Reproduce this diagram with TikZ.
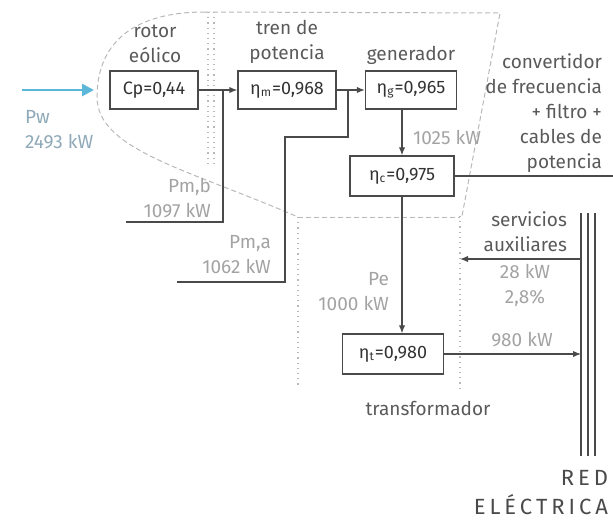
\documentclass[tikz,border=0pt]{standalone}
\usepackage{fontspec}
\setmainfont{Fira Sans}
\usetikzlibrary{arrows.meta}
\definecolor{trazo}{HTML}{4A4A4A}
\definecolor{textoc}{HTML}{5A5A5A}
\definecolor{valorc}{HTML}{A3A3A3}
\definecolor{viento}{HTML}{5DB7D8}
\definecolor{vientot}{HTML}{8FA9B8}
\definecolor{limite}{HTML}{B8B8B8}
\begin{document}
\begin{tikzpicture}[
    x=0.5pt, y=-0.5pt,
    caja/.style={draw=trazo, line width=0.7pt, font=\fontsize{9}{11}\selectfont,
                 text=black!80, minimum height=19pt, inner sep=1pt},
    titulo/.style={align=center, font=\fontsize{9.5}{12.5}\selectfont, text=textoc},
    valor/.style={font=\fontsize{9.5}{12.5}\selectfont, text=valorc},
    flujo/.style={-{Latex[length=4pt,width=3.2pt]}, draw=trazo, line width=0.6pt},
    conexion/.style={draw=trazo, line width=0.6pt},
    aire/.style={-{Triangle[length=6pt,width=6pt]}, draw=viento, line width=1.4pt},
    borde/.style={draw=limite, dash pattern=on 2.5pt off 1.5pt, line width=0.5pt},
    punteado/.style={draw=limite, dotted, line width=0.6pt}
  ]
  \useasboundingbox (0,0) rectangle (613,520);

  % limites del sistema
  \draw[borde] (205,12) .. controls (125,12) and (97,50) .. (97,97)
    .. controls (97,150) and (190,170) .. (298,217);
  \draw[borde] (205,12) -- (500,13) -- (462,216);
  \draw[borde] (298,217) -- (460,217);
  \draw[punteado] (460,216) -- (460,392);
  \draw[punteado] (298,217) -- (298,388);
  \draw[punteado] (208,12) -- (208,167);
  \draw[punteado] (214,12) -- (214,167);

  % bloques
  \node[caja, minimum width=44pt]   (rotor) at (154,90)  {Cp=0,44};
  \node[caja, minimum width=49pt]   (tren)  at (287,90)  {η\textsubscript{m}=0,968};
  \node[caja, minimum width=45.5pt] (gen)   at (411,90)  {η\textsubscript{g}=0,965};
  \node[caja, minimum width=52pt, minimum height=20pt] (conv)  at (402,176) {η\textsubscript{c}=0,975};
  \node[caja, minimum width=50.5pt, minimum height=20pt] (trafo) at (393,354) {η\textsubscript{t}=0,980};

  \node[titulo] (trotor) at (155,44) {rotor\\eólico};
  \node[titulo] (ttren)  at (287,42) {tren de\\potencia};
  \node[titulo] (tgen)   at (411,55) {generador};
  \node[titulo, align=right, anchor=east] (tconv) at (609,113)
    {convertidor\\de frecuencia\\+ filtro +\\cables de\\potencia};
  \node[titulo] (ttrafo) at (428,408) {transformador};
  \node[titulo, align=right, anchor=east] (taux) at (574,232) {servicios\\auxiliares};
  \node[titulo, align=right, anchor=east, text=trazo,
        font=\fontsize{11}{14.5}\selectfont\addfontfeature{LetterSpace=18}] (tred) at (615,493)
    {RED\\ELÉCTRICA};

  % potencias
  \node[valor, align=left, anchor=west, text=vientot] (pw) at (18,130) {Pw\\2493 kW};
  \node[valor, align=right, anchor=east] (vpmb) at (218,198) {Pm,b\\1097 kW};
  \node[valor, align=right, anchor=east] (vpma) at (278,255) {Pm,a\\1062 kW};
  \node[valor, align=right, anchor=east] (vpe)  at (396,292) {Pe\\1000 kW};
  \node[valor, anchor=west] (vgen) at (406,137) {1025 kW};
  \node[valor, align=center] (vaux) at (525,285) {28 kW\\2,8\%};
  \node[valor] (vred) at (522,340) {980 kW};

  % puntos libres
  \coordinate (pwini)  at (22,90);
  \coordinate (pwfin)  at (94,90);
  \coordinate (derivb) at (223,90);
  \coordinate (pmb)    at (126,222);
  \coordinate (deriva) at (348,90);
  \coordinate (pma)    at (177,282);
  \coordinate (salida) at (613,176);
  \coordinate (auxsal) at (581,259);
  \coordinate (auxlleg) at (460,259);
  \coordinate (redlleg) at (581,354);

  % red electrica
  \foreach \x in {581,588,595}
    \draw[conexion] (\x,213) -- (\x,456);

  % flujos
  \draw[aire] (pwini) -- (pwfin);
  \draw[flujo] (rotor) -- (tren);
  \draw[flujo] (tren) -- (gen);
  \draw[conexion] (derivb) |- (pmb);
  \draw[conexion] (deriva) -- ++(0,47) -- ++(-63,0) |- (pma);
  \draw[flujo] (conv.north |- gen.south) -- (conv.north);
  \draw[flujo] (conv.south) -- (conv.south |- trafo.north);
  \draw[conexion] (conv.east) -- (salida);
  \draw[flujo] (auxsal) -- (auxlleg);
  \draw[flujo] (trafo.east) -- (redlleg);
\end{tikzpicture}
\end{document}
